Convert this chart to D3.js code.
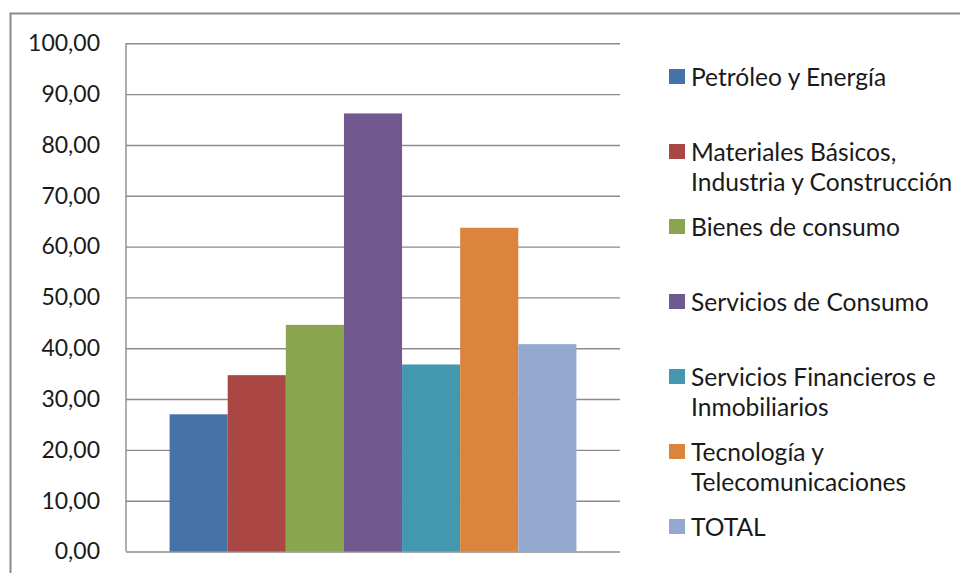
<!DOCTYPE html>
<html>
<head>
<meta charset="utf-8">
<script src="https://cdn.jsdelivr.net/npm/d3@7"></script>
<style>
  html, body { margin: 0; padding: 0; background: #fff; }
  svg { display: block; }
  text { font-family: Lato, "Open Sans", sans-serif; fill: #1a1a1a; }
</style>
</head>
<body>
<svg id="chart" width="960" height="573"></svg>
<script>
// Sector categories (one bar each) and their values
const sectors = [
  "Petróleo y Energía",
  "Materiales Básicos, Industria y Construcción",
  "Bienes de consumo",
  "Servicios de Consumo",
  "Servicios Financieros e Inmobiliarios",
  "Tecnología y Telecomunicaciones",
  "TOTAL"
];
const values = [27.0, 34.7, 44.6, 86.2, 36.8, 63.7, 40.8];
const colors = ["#4572A7", "#AA4643", "#89A54E", "#71588F", "#4198AF", "#DB843D", "#93A9CF"];
// Legend text, split into the lines it wraps to
const legendLines = [
  ["Petróleo y Energía"],
  ["Materiales Básicos,", "Industria y Construcción"],
  ["Bienes de consumo"],
  ["Servicios de Consumo"],
  ["Servicios Financieros e", "Inmobiliarios"],
  ["Tecnología y", "Telecomunicaciones"],
  ["TOTAL"]
];
const yTicks = [0, 10, 20, 30, 40, 50, 60, 70, 80, 90, 100];

const svg = d3.select("#chart");
const plot = { left: 126, right: 620, top: 43.3, bottom: 551.5 };

// outer frame (only top and left edges fall inside the view)
svg.append("path")
  .attr("d", "M10.5,573 L10.5,13.5 L960,13.5")
  .attr("fill", "none")
  .attr("stroke", "#8a8a8a")
  .attr("stroke-width", 2);

const y = d3.scaleLinear().domain([0, 100]).range([plot.bottom, plot.top]);

// single category cluster: seven adjacent bars with a 0.75-bar gap on each side
const gap = (plot.right - plot.left) * 0.75 / 8.5;
const x = d3.scaleBand().domain(sectors)
  .range([plot.left + gap, plot.right - gap])
  .paddingInner(0).paddingOuter(0);

const locale = d3.formatLocale({ decimal: ",", thousands: ".", grouping: [3], currency: ["", "€"] });
const fmt = locale.format(".2f");

// horizontal gridlines + value labels via a left axis
const axis = svg.append("g")
  .attr("transform", `translate(${plot.left},0)`)
  .call(d3.axisLeft(y).tickValues(yTicks).tickFormat(fmt)
    .tickSize(-(plot.right - plot.left)).tickPadding(26));
axis.select(".domain").remove();
axis.selectAll(".tick line")
  .attr("stroke", "#8c8c8c")
  .attr("stroke-width", 1.4);
axis.selectAll(".tick text")
  .attr("font-size", 23)
  .attr("font-family", "Lato, sans-serif")
  .attr("fill", "#1a1a1a");

// vertical value axis line
svg.append("line")
  .attr("x1", plot.left).attr("x2", plot.left)
  .attr("y1", plot.top).attr("y2", plot.bottom)
  .attr("stroke", "#8c8c8c").attr("stroke-width", 1.4);

// bars
svg.append("g").selectAll("rect")
  .data(values)
  .join("rect")
  .attr("x", (d, i) => x(sectors[i]))
  .attr("width", x.bandwidth())
  .attr("y", d => y(d))
  .attr("height", d => y(0) - y(d))
  .attr("fill", (d, i) => colors[i]);

// legend
const legend = svg.append("g");
legendLines.forEach((lines, i) => {
  const cy = 77 + 75 * i;
  legend.append("rect")
    .attr("x", 669).attr("y", cy - 8)
    .attr("width", 16).attr("height", 15)
    .attr("fill", colors[i]);
  lines.forEach((t, k) => {
    legend.append("text")
      .attr("x", 691)
      .attr("y", cy + 30 * k)
      .attr("dy", "0.36em")
      .attr("font-size", 24.6)
      .text(t);
  });
});
</script>
</body>
</html>
